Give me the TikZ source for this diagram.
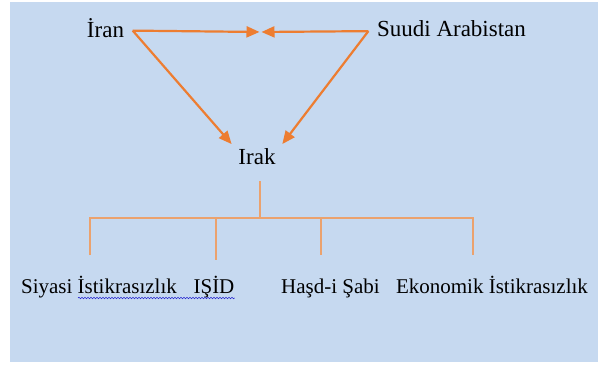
\documentclass[tikz,border=0pt]{standalone}
\usepackage{fontspec}
\setmainfont{Liberation Serif}
\usetikzlibrary{positioning,arrows.meta,decorations.pathmorphing}
\definecolor{bgblue}{HTML}{C6D9F0}
\definecolor{arrorange}{HTML}{ED7D31}
\definecolor{treeorange}{HTML}{EBA26E}
\definecolor{spellblue}{HTML}{2A2AD0}

\begin{document}
\begin{tikzpicture}[x=1pt, y=-1pt,
    country/.style = {font=\fontsize{23}{27}\selectfont, inner ysep=3pt, inner xsep=8.5pt, anchor=base},
    leaf/.style = {font=\fontsize{21}{25}\selectfont, inner sep=0pt, anchor=base},
    rel/.style = {draw=arrorange, line width=2.2pt, -{Triangle[length=13pt,width=11pt]}, shorten >=1pt},
    tree/.style = {draw=treeorange, line width=1.4pt},
    squiggle/.style = {draw=spellblue, line width=0.6pt, decorate, decoration={snake, amplitude=0.8pt, segment length=3pt}}]
      \useasboundingbox (0,0) rectangle (598,367);
      \fill[bgblue] (10,2) rectangle (598,362);
      \node[country] (iran) at (105.5,37) {İran};
      \node[country] (suudi) at (451.5,36) {Suudi Arabistan};
      \node[country, inner xsep=6pt] (irak) at (257,164) {Irak};
      \coordinate (meet) at (260.5,32);
      %% oklar
      \draw[rel] ([yshift=-3pt]iran.east) to (meet);
      \draw[rel] ([yshift=-3pt]suudi.west) to (meet);
      \draw[rel] ([yshift=-3pt]iran.east) to (irak.north west);
      \draw[rel] ([yshift=-3pt]suudi.west) to (irak.north east);
      %% alt dallar
      \coordinate (fork) at (260,218);
      \coordinate (d1) at (90,255);
      \coordinate (d2) at (216,260);
      \coordinate (d3) at (321,255);
      \coordinate (d4) at (473,255);
      \draw[tree] ([yshift=-14pt]fork |- irak.south) -- (fork);
      \draw[tree] (d1) -- (d1 |- fork) -- (d4 |- fork) -- (d4);
      \draw[tree] (d2 |- fork) -- (d2);
      \draw[tree] (d3 |- fork) -- (d3);
      \node[leaf] (siyasi) at (99,293) {Siyasi İstikrasızlık};
      \node[leaf] (isid) at (214,293) {IŞİD};
      \node[leaf] (hasd) at (330.5,293) {Haşd-i Şabi};
      \node[leaf] (ekonomik) at (492,293) {Ekonomik İstikrasızlık};
      \draw[squiggle] ([xshift=-99pt,yshift=-5pt]siyasi.base east) -- ([yshift=-5pt]isid.base east);
\end{tikzpicture}
\end{document}
